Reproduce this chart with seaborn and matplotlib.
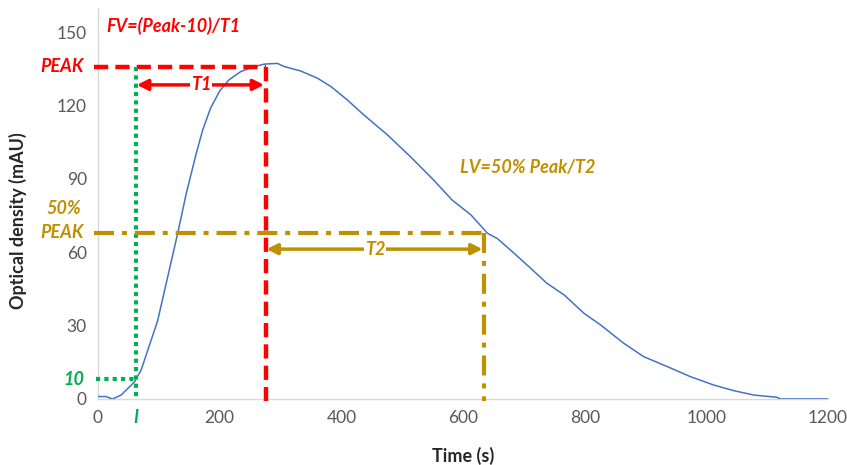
import matplotlib
matplotlib.use("Agg")
import matplotlib.pyplot as plt
import seaborn as sns
import pandas as pd

# curve
time_s = [0, 13, 24, 38, 60, 71, 98, 131, 145, 161, 172, 185, 200, 215, 235, 255, 273,
          295, 306, 333, 361, 383, 410, 437, 476, 514, 550, 582, 613, 640, 656, 684, 711,
          738, 766, 799, 826, 864, 897, 936, 974, 1012, 1045, 1078, 1116, 1121, 1200]
density = [1, 1, 0, 1.6, 7, 11.9, 32, 67.8, 84, 100, 110, 119, 126, 130.5, 134, 135.8, 137,
           137.3, 136, 134.2, 131.2, 127.8, 122.3, 116.2, 108, 99, 90, 81.4, 75.3, 67.8, 65.7,
           59.6, 53.5, 47.3, 42.6, 35, 30.3, 22.8, 17.3, 13.2, 9.1, 5.7, 3.4, 1.6, 0.7, 0, 0]

x_ticks = [0, 200, 400, 600, 800, 1000, 1200]
y_ticks = [0, 30, 60, 90, 120, 150]

# annotation values
peak = 136
t_peak = 276
t_onset = 63
onset_level = 8
half_peak = 68
t_half = 634
t1_level = 128.5
t2_level = 61.3

red = "#FF0000"
green = "#00B050"
gold = "#BF9000"

df = pd.DataFrame({"Time (s)": time_s, "Optical density (mAU)": density})

sns.set_style("white")
plt.rcParams["font.family"] = ["Lato", "DejaVu Sans"]

fig = plt.figure(figsize=(8.47, 4.65), dpi=100)
ax = fig.add_axes([0.1157, 0.142, 0.862, 0.841])

sns.lineplot(data=df, x="Time (s)", y="Optical density (mAU)", ax=ax,
             color="#4472C4", lw=1.1, zorder=3)

ax.set_xlim(0, 1200)
ax.set_ylim(0, 160)
ax.set_xticks(x_ticks)
ax.set_yticks(y_ticks)
ax.tick_params(length=0, labelsize=12.5, labelcolor="#595959", pad=8)
for s in ["top", "right"]:
    ax.spines[s].set_visible(False)
for s in ["left", "bottom"]:
    ax.spines[s].set_color("#D9D9D9")
    ax.spines[s].set_linewidth(1)

ax.set_xlabel("Time (s)", fontsize=13, fontweight="bold", va="top")
ax.set_ylabel("Optical density (mAU)", fontsize=13, fontweight="bold")
ax.xaxis.set_label_coords(0.5, -0.122)
ax.yaxis.set_label_coords(-0.097, 0.455)

dash = (0, (3.2, 1.6))
dot = (0, (1, 1))
dashdot = (0, (4.8, 1.9, 1.2, 1.9))

# peak lines
ax.plot([-7, t_peak], [peak, peak], color=red, lw=3.2, ls=dash, clip_on=False, zorder=4)
ax.plot([t_peak, t_peak], [peak, -1], color=red, lw=3.2, ls=dash, clip_on=False, zorder=4)

# onset lines
ax.plot([-4, t_onset], [onset_level, onset_level], color=green, lw=3, ls=dot, clip_on=False, zorder=4)
ax.plot([t_onset, t_onset], [peak, 0], color=green, lw=3, ls=dot, clip_on=False, zorder=4)

# half-peak lines
ax.plot([-7, t_half], [half_peak, half_peak], color=gold, lw=3, ls=dashdot, clip_on=False, zorder=4)
ax.plot([t_half, t_half], [half_peak, -1], color=gold, lw=3, ls=dashdot, clip_on=False, zorder=4)

# arrows
ax.annotate("", xy=(t_peak - 3, t1_level), xytext=(t_onset + 1, t1_level),
            arrowprops=dict(arrowstyle="<|-|>", color=red, lw=2.5, mutation_scale=16,
                            shrinkA=0, shrinkB=0), zorder=5)
ax.text((t_onset + t_peak) / 2, t1_level, "T1", color=red, fontsize=13, fontweight="bold",
        style="italic", ha="center", va="center", zorder=6,
        bbox=dict(facecolor="white", edgecolor="none", pad=0.5))
ax.annotate("", xy=(t_half - 2, t2_level), xytext=(t_peak + 1, t2_level),
            arrowprops=dict(arrowstyle="<|-|>", color=gold, lw=2.5, mutation_scale=16,
                            shrinkA=0, shrinkB=0), zorder=5)
ax.text((t_peak + t_half) / 2, t2_level, "T2", color=gold, fontsize=13, fontweight="bold",
        style="italic", ha="center", va="center", zorder=6,
        bbox=dict(facecolor="white", edgecolor="none", pad=0.5))

# labels
txt = dict(fontsize=13, fontweight="bold", style="italic", clip_on=False)
ax.text(-23, peak, "PEAK", color=red, ha="right", va="center", **txt)
ax.text(13, 152.6, "FV=(Peak-10)/T1", color=red, ha="left", va="center", **txt)
ax.text(-23, onset_level, "10", color=green, ha="right", va="center", **txt)
ax.text(t_onset, -7.4, "I", color=green, ha="center", va="center", **txt)
ax.text(-56, 78, "50%", color=gold, ha="center", va="center", **txt)
ax.text(-23, half_peak, "PEAK", color=gold, ha="right", va="center", **txt)
ax.text(706, 94.5, "LV=50% Peak/T2", color=gold, ha="center", va="center", **txt)

fig.savefig("out.png", dpi=100)
